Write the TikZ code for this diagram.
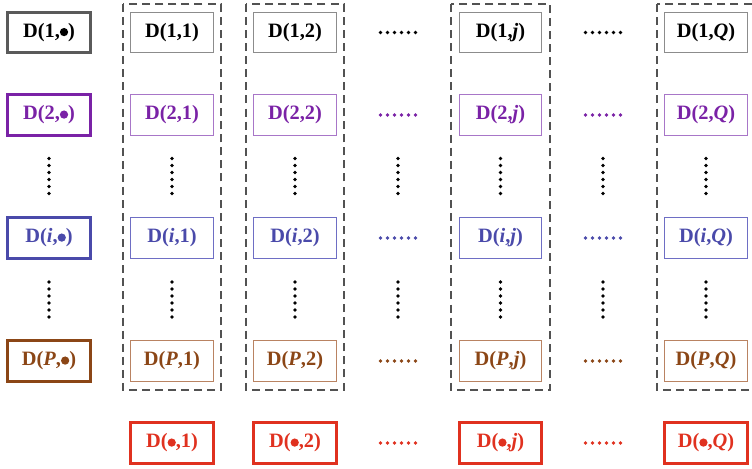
\documentclass[tikz,border=0pt]{standalone}
\usepackage{fontspec}
\setmainfont{Liberation Serif}
\newcommand{\bdot}{\tikz[baseline=0pt,x=1pt,y=1pt]\fill (0,4pt) circle (3.1pt);}
\begin{document}
\begin{tikzpicture}[x=0.75pt,y=-0.75pt,
  cell/.style={draw, line width=0.75pt, minimum width=62pt, minimum height=30.5pt, inner sep=0pt, font=\fontsize{15.3}{18}\selectfont\bfseries},
  hcell/.style={cell, line width=2.2pt},
  grp/.style={draw=black!68, line width=0.9pt, dash pattern=on 6pt off 3.8pt},
]
\definecolor{cg}{HTML}{5A5A5A}
\definecolor{cgl}{HTML}{8C8C8C}
\definecolor{cp}{HTML}{7A22A6}
\definecolor{cpl}{HTML}{A876C8}
\definecolor{cb}{HTML}{4A4AAA}
\definecolor{cbl}{HTML}{6E6EC4}
\definecolor{cn}{HTML}{8B4616}
\definecolor{cnl}{HTML}{B98362}
\definecolor{cr}{HTML}{E0311F}
\useasboundingbox (0,0) rectangle (752,468);
\clip (0,0) rectangle (752,468);
% dashed groups
\draw[grp] (123,4) rectangle (221,390);
\draw[grp] (246,4) rectangle (344,390);
\draw[grp] (451,4) rectangle (550,390);
\draw[grp] (657,4) rectangle (756,390);
% left header column
\node[hcell, draw=cg, text=black] (L1) at (49,32.5) {D(1,\bdot)};
\node[hcell, draw=cp, text=cp] (L2) at (49,115) {D(2,\bdot)};
\node[hcell, draw=cb, text=cb] (Li) at (49,238) {D(\textit{i},\bdot)};
\node[hcell, draw=cn, text=cn] (LP) at (49,361) {D(\textit{P},\bdot)};
% column 1
\node[cell, draw=cgl, text=black] (a11) at (172,32.5) {D(1,1)};
\node[cell, draw=cpl, text=cp] (a21) at (172,115) {D(2,1)};
\node[cell, draw=cbl, text=cb] (ai1) at (172,238) {D(\textit{i},1)};
\node[cell, draw=cnl, text=cn] (aP1) at (172,361) {D(\textit{P},1)};
% column 2
\node[cell, draw=cgl, text=black] (a12) at (295,32.5) {D(1,2)};
\node[cell, draw=cpl, text=cp] (a22) at (295,115) {D(2,2)};
\node[cell, draw=cbl, text=cb] (ai2) at (295,238) {D(\textit{i},2)};
\node[cell, draw=cnl, text=cn] (aP2) at (295,361) {D(\textit{P},2)};
% column j
\node[cell, draw=cgl, text=black] (a1j) at (500.5,32.5) {D(1,\textit{j})};
\node[cell, draw=cpl, text=cp] (a2j) at (500.5,115) {D(2,\textit{j})};
\node[cell, draw=cbl, text=cb] (aij) at (500.5,238) {D(\textit{i},\textit{j})};
\node[cell, draw=cnl, text=cn] (aPj) at (500.5,361) {D(\textit{P},\textit{j})};
% column Q
\node[cell, draw=cgl, text=black] (a1Q) at (706,32.5) {D(1,\textit{Q})};
\node[cell, draw=cpl, text=cp] (a2Q) at (706,115) {D(2,\textit{Q})};
\node[cell, draw=cbl, text=cb] (aiQ) at (706,238) {D(\textit{i},\textit{Q})};
\node[cell, draw=cnl, text=cn] (aPQ) at (706,361) {D(\textit{P},\textit{Q})};
% bottom row
\node[hcell, draw=cr, text=cr] (b1) at (172,443) {D(\bdot,1)};
\node[hcell, draw=cr, text=cr] (b2) at (295,443) {D(\bdot,2)};
\node[hcell, draw=cr, text=cr] (bj) at (500.5,443) {D(\bdot,\textit{j})};
\node[hcell, draw=cr, text=cr] (bQ) at (706,443) {D(\bdot,\textit{Q})};
% horizontal dots
\foreach \y/\c in {32.5/black, 115/cp, 238/cb, 361/cn, 443/cr}{
  \foreach \xc in {398,603}{
    \foreach \k in {-17.5,-10.5,-3.5,3.5,10.5,17.5}{
      \fill[\c] (\xc+\k,\y) circle (1.35pt);
    }
  }
}
% vertical dots
\foreach \xc in {49,172,295,398,500.5,603,706}{
  \foreach \yc in {176,299.5}{
    \foreach \k in {-17.5,-10.5,-3.5,3.5,10.5,17.5}{
      \fill[black] (\xc,\yc+\k) circle (1.35pt);
    }
  }
}
\end{tikzpicture}
\end{document}
